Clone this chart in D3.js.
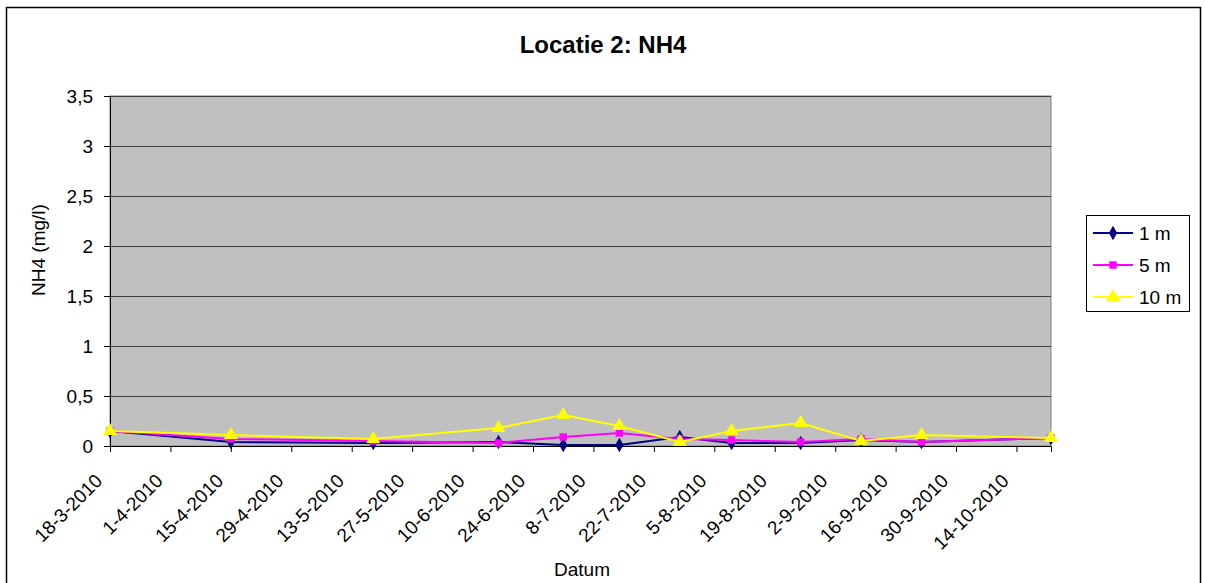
<!DOCTYPE html>
<html>
<head>
<meta charset="utf-8">
<script src="https://cdn.jsdelivr.net/npm/d3@7"></script>
<style>
  body { margin: 0; background: #fff; }
  text { font-family: "Liberation Sans", Arial, sans-serif; }
</style>
</head>
<body>
<div class="chart"></div>
<script>
// Sample dates and NH4 values (mg/l) per depth
const dates = ["18-3-2010", "15-4-2010", "18-5-2010", "16-6-2010", "1-7-2010", "14-7-2010",
  "28-7-2010", "9-8-2010", "25-8-2010", "8-9-2010", "22-9-2010", "22-10-2010"];
const values1m = [0.15, 0.04, 0.03, 0.04, 0.01, 0.01, 0.09, 0.03, 0.03, 0.06, 0.04, 0.08];
const values5m = [0.15, 0.07, 0.05, 0.03, 0.09, 0.13, 0.07, 0.06, 0.04, 0.07, 0.04, 0.08];
const values10m = [0.15, 0.11, 0.07, 0.18, 0.31, 0.20, 0.04, 0.15, 0.23, 0.05, 0.11, 0.08];

const tickLabels = ["18-3-2010", "1-4-2010", "15-4-2010", "29-4-2010", "13-5-2010", "27-5-2010",
  "10-6-2010", "24-6-2010", "8-7-2010", "22-7-2010", "5-8-2010", "19-8-2010", "2-9-2010",
  "16-9-2010", "30-9-2010", "14-10-2010"];
const yTicks = [0, 0.5, 1, 1.5, 2, 2.5, 3, 3.5];

const seriesNames = ["1 m", "5 m", "10 m"];
const seriesColors = ["#000080", "#FF00FF", "#FFFF00"];

const W = 1205, H = 583;
const margin = { top: 96, right: 154, bottom: 137, left: 110 };
const width = W - margin.left - margin.right,
  height = H - margin.top - margin.bottom;

const parse = d3.utcParse("%d-%m-%Y");
const fmtNum = (v) => String(v).replace(".", ",");

const svg = d3.select(".chart").append("svg")
  .attr("width", W)
  .attr("height", H);

// outer frame (bottom edge falls outside the picture)
svg.append("rect")
  .attr("x", 6.5).attr("y", 7.5)
  .attr("width", 1194).attr("height", 590)
  .attr("fill", "#fff")
  .attr("stroke", "#000")
  .attr("stroke-width", 1.5);

const g = svg.append("g").attr("transform", `translate(${margin.left},${margin.top})`);

const x = d3.scaleUtc()
  .domain([parse(dates[0]), parse(dates[dates.length - 1])])
  .range([0, width]);

const y = d3.scaleLinear().domain([0, 3.5]).range([height, 0]);

// plot background
g.append("rect")
  .attr("width", width).attr("height", height)
  .attr("fill", "#C0C0C0")
  .attr("stroke", "#808080")
  .attr("stroke-width", 1);

// gridlines
g.selectAll(".grid")
  .data(yTicks.slice(1))
  .join("line")
  .attr("class", "grid")
  .attr("x1", 0).attr("x2", width)
  .attr("y1", (d) => Math.round(y(d)) + 0.5)
  .attr("y2", (d) => Math.round(y(d)) + 0.5)
  .attr("stroke", "#404040")
  .attr("stroke-width", 1);

// y axis
const yAxis = g.append("g")
  .call(d3.axisLeft(y).tickValues(yTicks).tickSize(6).tickPadding(11).tickFormat(fmtNum));
yAxis.select(".domain").attr("stroke", "#000");
yAxis.selectAll("line").attr("stroke", "#000");
yAxis.selectAll("text").style("font-size", "19px").attr("fill", "#000");

// x axis
const xAxis = g.append("g")
  .attr("transform", `translate(0,${height})`)
  .call(d3.axisBottom(x).tickValues(tickLabels.map(parse)).tickSize(6)
    .tickFormat((d, i) => tickLabels[i]));
xAxis.select(".domain").attr("stroke", "#000");
xAxis.selectAll("line").attr("stroke", "#000");
xAxis.selectAll("text")
  .style("font-size", "19px")
  .attr("fill", "#000")
  .attr("text-anchor", "end")
  .attr("dy", null)
  .attr("y", 0)
  .attr("transform", "translate(-7,36) rotate(-45)");

// lines and markers
const allSeries = [values1m, values5m, values10m];
const symbols = [d3.symbolDiamond, d3.symbolSquare, d3.symbolTriangle];
const symSizes = [60, 55, 85];

const line = d3.line()
  .x((d, i) => x(parse(dates[i])))
  .y((d) => y(d));

allSeries.forEach((vals, s) => {
  g.append("path")
    .datum(vals)
    .attr("fill", "none")
    .attr("stroke", seriesColors[s])
    .attr("stroke-width", 2)
    .attr("d", line);
});
allSeries.forEach((vals, s) => {
  g.selectAll(".pt" + s)
    .data(vals)
    .join("path")
    .attr("class", "pt" + s)
    .attr("transform", (d, i) => `translate(${x(parse(dates[i]))},${y(d)})`)
    .attr("d", d3.symbol().type(symbols[s]).size(symSizes[s]))
    .attr("fill", seriesColors[s]);
});

// title and axis labels
svg.append("text")
  .attr("x", 603).attr("y", 53)
  .attr("text-anchor", "middle")
  .style("font-size", "24px")
  .style("font-weight", "bold")
  .text("Locatie 2: NH4");

svg.append("text")
  .attr("transform", "translate(45,250) rotate(-90)")
  .attr("text-anchor", "middle")
  .style("font-size", "19px")
  .text("NH4 (mg/l)");

svg.append("text")
  .attr("x", 582).attr("y", 576)
  .attr("text-anchor", "middle")
  .style("font-size", "19px")
  .text("Datum");

// legend
const legend = svg.append("g").attr("transform", "translate(1086,215)");
legend.append("rect")
  .attr("x", 0.5).attr("y", 0.5)
  .attr("width", 103).attr("height", 96)
  .attr("fill", "#fff")
  .attr("stroke", "#000");

seriesNames.forEach((name, s) => {
  const ly = 18 + s * 32;
  legend.append("line")
    .attr("x1", 7).attr("x2", 47)
    .attr("y1", ly).attr("y2", ly)
    .attr("stroke", seriesColors[s])
    .attr("stroke-width", 2);
  legend.append("path")
    .attr("transform", `translate(27,${ly})`)
    .attr("d", d3.symbol().type(symbols[s]).size(symSizes[s]))
    .attr("fill", seriesColors[s]);
  legend.append("text")
    .attr("x", 53).attr("y", ly + 7)
    .style("font-size", "19px")
    .text(name);
});
</script>
</body>
</html>
